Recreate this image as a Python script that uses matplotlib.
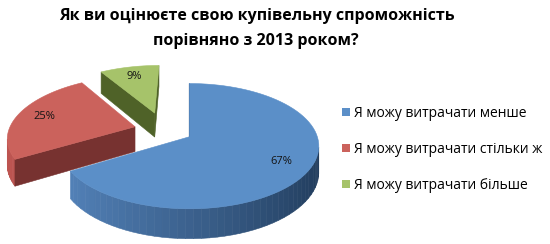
import numpy as np
import matplotlib.pyplot as plt
import matplotlib.colors as mcolors
from matplotlib.patches import Polygon, Patch

plt.rcParams['font.family'] = ['Open Sans', 'DejaVu Sans']

title_lines = ['Як ви оцінюєте свою купівельну спроможність',
               'порівняно з 2013 роком?']
labels = ['Я можу витрачати менше',
          'Я можу витрачати стільки ж',
          'Я можу витрачати більше']
values = [67, 25, 9]
pct_labels = ['67%', '25%', '9%']

top_colors = ['#5b8fc8', '#cb625c', '#a6c36a']
side_light = ['#5585bd', '#bd5450', '#4f6228']
side_dark = ['#213c5c', '#b04c48', '#4f6228']
cut_colors = ['#213c5c', '#773230', '#4f6228']
explode = [0.23, 0.24, 0.31]

# fake 3d projection, all in pixels of a 550x244 canvas
X0, Y0 = 164, 130   # centre of the pie
S, B = 126, 0.47    # radius, squash of the tilted disc
P = 0.147           # perspective strength
UC = 0.2            # camera x (disc units)
D = 25              # thickness


def proj(u, v, z=0):
    k = 1 / (1 + P * v)
    return X0 + S * UC + S * (u - UC) * k, Y0 - S * B * v * k + z * D * k


def area(pts):
    x, y = np.array(pts).T
    return 0.5 * np.sum(x * np.roll(y, -1) - np.roll(x, -1) * y)


def mix(c1, c2, t):
    a, b = np.array(mcolors.to_rgb(c1)), np.array(mcolors.to_rgb(c2))
    return tuple(a + (b - a) * t)


fig = plt.figure(figsize=(5.5, 2.44), dpi=100)
ax = fig.add_axes([0, 0, 1, 1])
ax.set_xlim(0, 550)
ax.set_ylim(244, 0)
ax.axis('off')

fracs = np.array(values) / np.sum(values)
ends = 90 - 360 * np.cumsum(fracs)
starts = np.concatenate([[90], ends[:-1]])

order = [2, 1, 0]  # far slices first
for i in order:
    a1, a2 = np.radians(ends[i]), np.radians(starts[i])   # a1 < a2
    mid = (a1 + a2) / 2
    cu, cv = explode[i] * np.cos(mid), explode[i] * np.sin(mid)
    t = np.linspace(a1, a2, 80)
    ou, ov = cu + np.cos(t), cv + np.sin(t)

    # outer side, small pieces so it can be shaded
    for j in range(len(t) - 1):
        q = [proj(ou[j], ov[j]), proj(ou[j + 1], ov[j + 1]),
             proj(ou[j + 1], ov[j + 1], 1), proj(ou[j], ov[j], 1)]
        if area(q) > 0:
            c = mix(side_light[i], side_dark[i], (1 + np.cos(t[j])) / 2)
            ax.add_patch(Polygon(q, closed=True, fc=c, ec=c, lw=0.4))

    # cut faces
    faces = [[(cu, cv), (ou[0], ov[0])], [(ou[-1], ov[-1]), (cu, cv)]]
    for (p1, p2) in faces:
        q = [proj(*p1), proj(*p2), proj(*p2, 1), proj(*p1, 1)]
        if area(q) > 0:
            ax.add_patch(Polygon(q, closed=True, fc=cut_colors[i],
                                 ec=cut_colors[i], lw=0.4))

    top = [proj(cu, cv)] + [proj(a, b) for a, b in zip(ou, ov)]
    ax.add_patch(Polygon(top, closed=True, fc=top_colors[i],
                         ec=top_colors[i], lw=0.4))

    r = 0.78
    lx, ly = proj(cu + r * np.cos(mid), cv + r * np.sin(mid))
    ax.text(lx, ly, pct_labels[i], ha='center', va='center',
            fontsize=8, color='#141414')

fig.text(257 / 550, 1 - 16 / 244, title_lines[0], ha='center', va='center',
         fontsize=11.5, fontweight='bold', color='black')
fig.text(256 / 550, 1 - 41 / 244, title_lines[1], ha='center', va='center',
         fontsize=11.5, fontweight='bold', color='black')

handles = [Patch(fc=c, ec='none') for c in top_colors]
ax.legend(handles, labels, loc='upper left',
          bbox_to_anchor=(342 / 550, 1 - 106 / 244),
          frameon=False, fontsize=10, handlelength=0.55, handleheight=0.55,
          handletextpad=0.35, labelspacing=1.5, borderpad=0,
          borderaxespad=0)

fig.savefig('out.png', dpi=100)
